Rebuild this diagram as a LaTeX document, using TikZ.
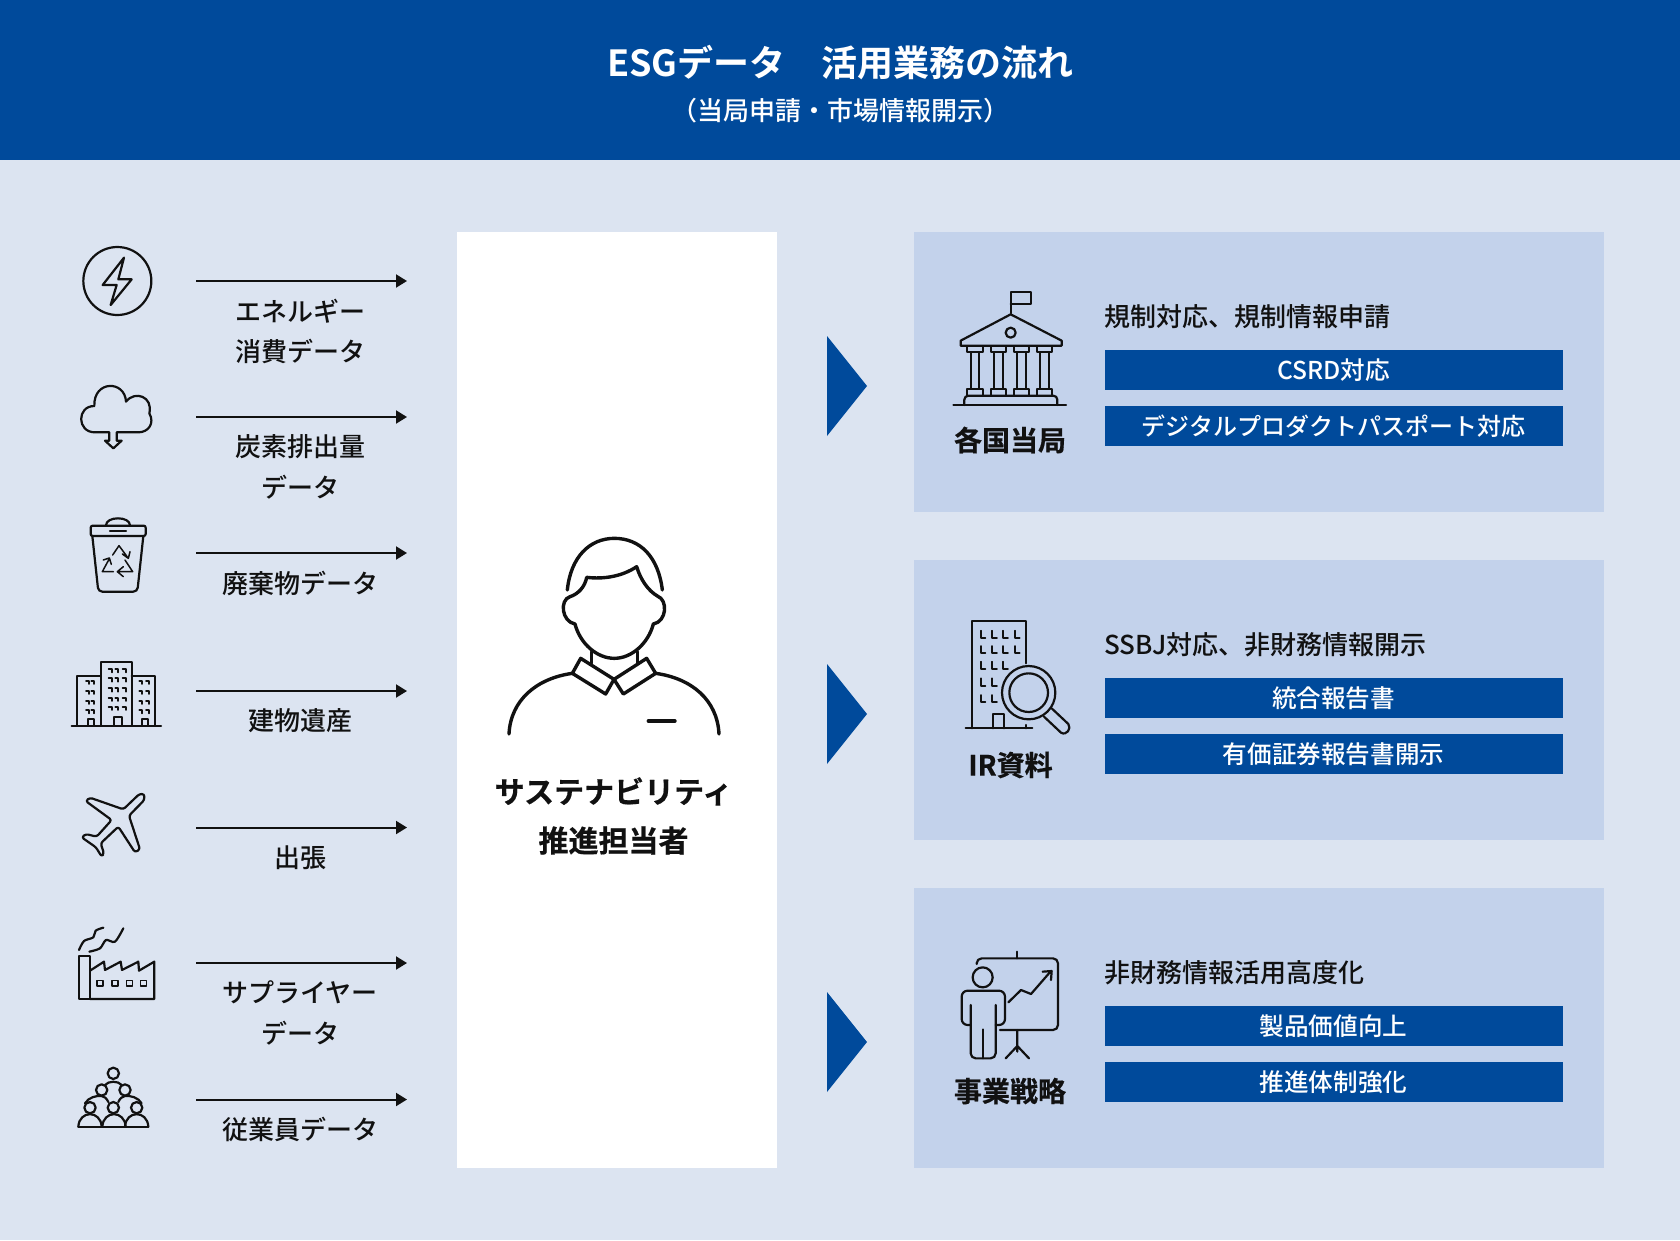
\documentclass[tikz,border=0pt]{standalone}
\usepackage{fontspec}
\setmainfont{Noto Sans CJK JP Medium}
\newfontfamily\strongfont{Noto Sans CJK JP Bold}
\newfontfamily\heavyfont[FakeBold=0.6]{Noto Sans CJK JP Bold}
\usetikzlibrary{arrows.meta, positioning}
\definecolor{navy}{HTML}{004A9B}
\definecolor{paper}{HTML}{DCE4F1}
\definecolor{panelblue}{HTML}{C3D2EB}
\definecolor{ink}{HTML}{111111}

\begin{document}
\begin{tikzpicture}[
    x=1pt, y=-1pt,
    every node/.style={inner sep=0pt, text=ink},
    panel/.style={fill=panelblue, anchor=north west, minimum width=690pt, minimum height=280pt},
    bar/.style={fill=navy, text=white, minimum width=458pt, minimum height=40pt, font=\fontsize{24.6}{30}\selectfont},
    heading/.style={anchor=west, font=\fontsize{26}{32}\selectfont},
    owner/.style={font=\fontsize{28}{34}\heavyfont\selectfont},
    datalabel/.style={align=center, font=\fontsize{26}{40.5}\selectfont},
    arrow/.style={-{Triangle[length=11pt,width=13pt]}, line width=2pt, draw=ink},
    icon/.style={shift={#1}, scale=1/3, color=ink, line width=2.2pt, line join=round, line cap=round}
]
\useasboundingbox (0,0) rectangle (1680,1240);

% Background
\fill[paper] (0,0) rectangle (1680,1240);
\fill[navy] (0,0) rectangle (1680,160);
\node[text=white, font=\fontsize{36}{44}\strongfont\selectfont] (title) at (840.5,62.5) {ESGデータ　活用業務の流れ};
\node[text=white, font=\fontsize{26}{32}\selectfont] (subtitle) at (840,110.5) {（当局申請・市場情報開示）};

% Nodes
\node[fill=white, anchor=north west, minimum width=320pt, minimum height=935.5pt] (centre) at (456.5,232) {};
\node[align=center, font=\fontsize{30}{49}\heavyfont\selectfont] (who) at (613.5,816) {サステナビリティ\\推進担当者};

\node[panel] (auth) at (914,232) {};
\node[panel] (ir) at (914,560) {};
\node[panel] (plan) at (914,887.5) {};

\node[bar] (auth1) at (1333.5,370) {CSRD対応};
\node[bar, below=16pt of auth1, font=\fontsize{24}{30}\selectfont] (auth2) {デジタルプロダクトパスポート対応};
\node[bar] (ir1) at (1333.5,698) {統合報告書};
\node[bar, below=16pt of ir1] (ir2) {有価証券報告書開示};
\node[bar] (plan1) at (1333.5,1026) {製品価値向上};
\node[bar, below=16pt of plan1] (plan2) {推進体制強化};

\node[heading] (authhead) at ([yshift=33pt]auth1.north west) {規制対応、規制情報申請};
\node[heading] (irhead) at ([yshift=33pt]ir1.north west) {SSBJ対応、非財務情報開示};
\node[heading] (planhead) at ([yshift=33pt]plan1.north west) {非財務情報活用高度化};

\node[owner] (authname) at (1010,440) {各国当局};
\node[owner] (irname) at (1010.5,765) {IR資料};
\node[owner] (planname) at (1010,1091) {事業戦略};

% Big triangles
\foreach \y in {386,714,1042} {
    \fill[navy] (827,\y-50) -- (867,\y) -- (827,\y+50) -- cycle;
}

% Arrows
\foreach \i/\y/\txt in {1/281/{エネルギー\\消費データ}, 2/417/{炭素排出量\\データ}, 3/553/{廃棄物データ},
    4/691/{建物遺産}, 5/827.5/{出張}, 6/963/{サプライヤー\\データ}, 7/1099.5/{従業員データ}} {
    \coordinate (in\i) at (196,\y);
    \coordinate (out\i) at (407,\y);
    \draw[arrow] (in\i) -- node[datalabel, below=17pt, xshift=-1.5pt] (data\i) {\txt} (out\i);
}

% Energy
\begin{scope}[icon={(60,230)}]
    \draw (172,153) circle[radius=102];
    \draw (192,83) -- (128,165) -- (170,165) -- (152,225) -- (215,148) -- (175,148) -- cycle;
\end{scope}

% Cloud
\begin{scope}[icon={(60,230)}]
    \draw (148,607) -- (105,607) .. controls (50,607) and (50,528) .. (103,528)
        .. controls (100,450) and (195,450) .. (198,515)
        .. controls (225,480) and (280,500) .. (268,550)
        .. controls (285,580) and (265,607) .. (235,607) -- (170,607)
        -- (170,632) -- (185,632) -- (160,655) -- (135,632) -- (148,632) -- cycle;
\end{scope}

% Waste
\begin{scope}[icon={(60,230)}]
    \draw[rounded corners=2pt] (92,918) -- (92,887) -- (257,887) -- (257,918) -- cycle;
    \draw (138,886) .. controls (138,858) and (210,858) .. (210,886);
    \draw (150,903) -- (198,903);
    \draw[rounded corners=4pt] (97,918) -- (115,1085) -- (232,1085) -- (250,918);
    \begin{scope}[line width=1.5pt]
        \draw (158,975) -- (177,947) -- (205,985) (187,972) -- (205,985) -- (210,965);
        \draw (160,1025) -- (127,1025) -- (147,988) (130,990) -- (148,984) -- (154,1003);
        \draw (195,990) -- (218,1025) -- (172,1025) (190,1010) -- (172,1025) -- (190,1040);
    \end{scope}
\end{scope}

% Buildings
\begin{scope}[icon={(60,640)}]
    \draw (35,257) -- (303,257);
    \draw (52,257) -- (52,107) -- (122,107);
    \draw (122,257) -- (122,65) -- (215,65) -- (215,257);
    \draw (215,107) -- (285,107) -- (285,257);
    \foreach \x in {87,103,247,267} \foreach \y in {122,152,182,210}
        \draw[line width=1.8pt] (\x-9,\y) -- (\x,\y) -- (\x,\y+10);
    \foreach \x in {155,175,197} \foreach \y in {87,115,145,173,200}
        \draw[line width=1.8pt] (\x-9,\y) -- (\x,\y) -- (\x,\y+10);
    \draw (85,257) -- (85,237) -- (102,237) -- (102,257);
    \draw (163,257) -- (163,230) -- (185,230) -- (185,257);
    \draw (245,257) -- (245,237) -- (263,237) -- (263,257);
\end{scope}

% Plane
\begin{scope}[icon={(60,640)}]
    \draw[rounded corners=2.5pt] (253,462) -- (238,462) -- (190,508) -- (90,473) -- (77,483) -- (155,540) -- (110,590)
        -- (78,582) -- (65,592) -- (108,622) -- (125,650) -- (132,640) -- (122,610) -- (175,560)
        -- (225,637) -- (240,628) -- (207,527) -- (253,480) -- cycle;
\end{scope}

% Factory
\begin{scope}[icon={(60,640)}]
    \draw (57,947) rectangle (90,1077);
    \draw (90,992) -- (132,965) -- (135,990) -- (182,965) -- (186,990) -- (235,965) -- (237,992) -- (283,965) -- (283,1077) -- (90,1077);
    \foreach \x in {120,165,208,250}
        \draw[line width=1.5pt] (\x-9,1022) rectangle (\x+9,1038);
    \draw plot[smooth] coordinates {(57,930) (72,903) (100,892) (107,872) (130,863)};
    \draw plot[smooth] coordinates {(88,935) (120,925) (138,900) (165,905) (190,865)};
\end{scope}

% People
\begin{scope}[icon={(60,640)}]
    \foreach \x/\y in {160/1300, 125/1350, 195/1350, 90/1403, 160/1403, 230/1403}
        \draw (\x,\y) circle[radius=17];
    \draw (55,1460) -- (265,1460);
    \foreach \x in {55,127,195}
        \draw (\x,1460) .. controls (\x+3,1410) and (\x+67,1410) .. (\x+70,1460);
    \draw (75,1390) .. controls (85,1372) and (110,1366) .. (125,1368) .. controls (133,1369) and (140,1375) .. (145,1386);
    \draw (245,1390) .. controls (235,1372) and (210,1366) .. (195,1368) .. controls (187,1369) and (180,1375) .. (175,1386);
    \draw (135,1335) .. controls (145,1322) and (175,1322) .. (185,1335);
\end{scope}

% Person
\begin{scope}[icon={(480,520)}, line width=3.4pt]
    \draw (262,210) .. controls (272,110) and (330,55) .. (403,55) .. controls (480,55) and (535,110) .. (547,210);
    \draw (320,172) .. controls (370,178) and (425,170) .. (470,140) .. controls (482,180) and (505,212) .. (532,228)
        .. controls (565,240) and (560,305) .. (520,312) .. controls (505,370) and (455,415) .. (403,415)
        .. controls (350,415) and (300,370) .. (285,312) .. controls (245,305) and (238,240) .. (270,230)
        .. controls (295,222) and (315,200) .. (320,172) -- cycle;
    \draw (335,395) -- (335,430) (472,395) -- (472,430);
    \draw (302,415) -- (402,478) -- (377,522) -- (277,460) -- cycle;
    \draw (500,415) -- (402,478) -- (430,522) -- (527,460) -- cycle;
    \draw (277,460) .. controls (170,475) and (92,540) .. (87,642);
    \draw (527,460) .. controls (635,475) and (712,540) .. (717,642);
    \draw (505,603) -- (585,603);
\end{scope}

% Bank
\begin{scope}[icon={(930,280)}]
    \draw (242,100) -- (242,35) -- (302,35) -- (302,72) -- (242,72);
    \draw (242,103) -- (395,182) -- (395,197) -- (92,197) -- (92,182) -- cycle;
    \draw (242,158) circle[radius=15];
    \foreach \x in {135,205,275,343} {
        \draw (\x-23,197) rectangle (\x+23,217);
        \draw (\x-13,217) rectangle (\x+13,327);
        \draw (\x-23,327) rectangle (\x+23,347);
    }
    \draw[rounded corners=4pt] (103,375) -- (103,347) -- (382,347) -- (382,375);
    \draw (70,375) -- (408,375);
\end{scope}

% Report
\begin{scope}[icon={(950,610)}]
    \draw (67,355) -- (67,32) -- (227,32) -- (227,160);
    \draw (47,355) -- (247,355) (227,345) -- (227,355);
    \draw (130,355) -- (130,312) -- (163,312) -- (163,355);
    \foreach \x/\y in {92/62,127/62,160/62,195/62,92/108,127/108,160/108,195/108,92/155,127/155,160/155,92/205,127/205,92/255,127/255}
        \draw[line width=1.8pt] (\x,\y) -- (\x,\y+22) -- (\x+14,\y+22);
    \draw (236,248) circle[radius=80];
    \draw (236,248) circle[radius=58];
    \draw (305,295) -- (355,342) .. controls (365,355) and (350,378) .. (333,368) -- (282,320);
\end{scope}

% Presenter
\begin{scope}[icon={(950,940)}]
    \draw[rounded corners=5pt] (80,72) -- (80,55) -- (324,55) -- (324,270) -- (150,270);
    \draw (202,35) -- (202,55);
    \draw (202,270) -- (202,335) (167,355) -- (202,318) -- (237,355);
    \draw (98,112) circle[radius=30];
    \draw[rounded corners=5pt] (62,195) -- (62,355) -- (137,355) -- (137,195);
    \draw[rounded corners=6pt] (62,255) -- (35,255) -- (35,152) -- (165,152) -- (165,255) -- (137,255);
    \draw (100,268) -- (100,355);
    \draw (175,187) -- (213,150) -- (243,162) -- (303,93) (278,95) -- (305,93) -- (303,120);
\end{scope}

\end{tikzpicture}
\end{document}
